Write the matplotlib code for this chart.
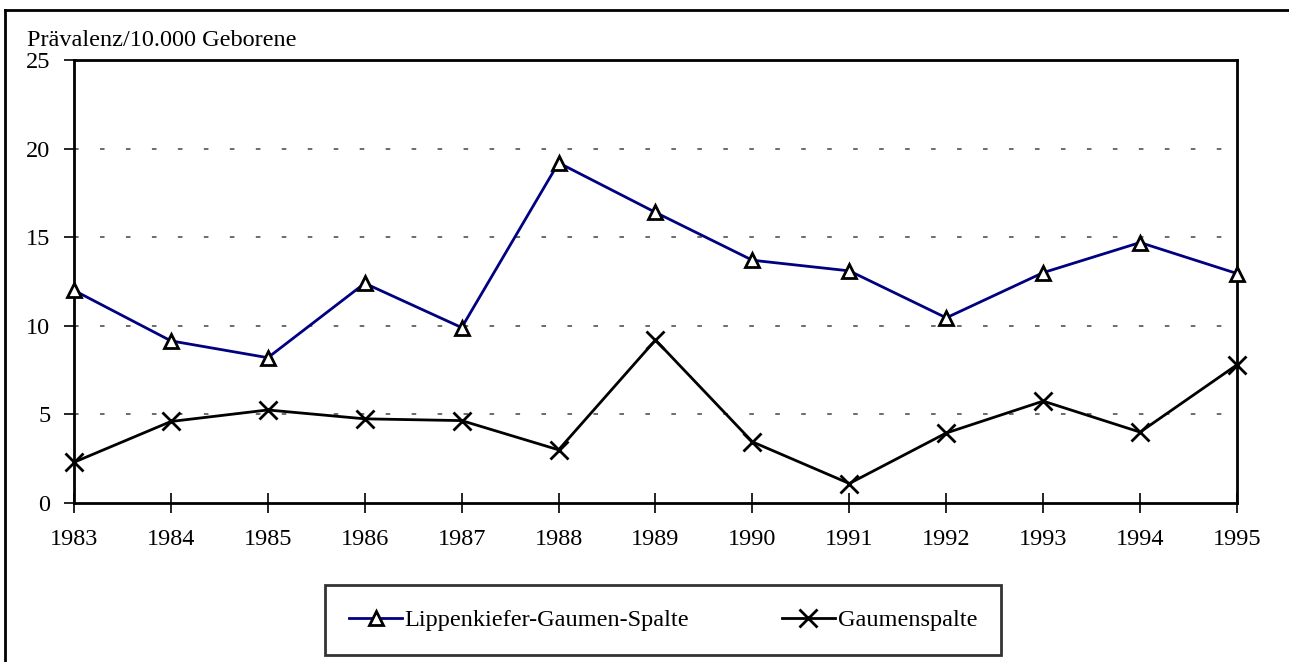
import matplotlib
matplotlib.use("Agg")
import matplotlib.pyplot as plt
from matplotlib.lines import Line2D

years = [1983, 1984, 1985, 1986, 1987, 1988, 1989, 1990, 1991, 1992, 1993, 1994, 1995]
lkg_spalte = [12.0, 9.15, 8.2, 12.4, 9.9, 19.2, 16.4, 13.7, 13.1, 10.45, 13.0, 14.7, 12.95]
gaumenspalte = [2.3, 4.6, 5.25, 4.75, 4.65, 3.0, 9.2, 3.45, 1.1, 3.95, 5.75, 4.0, 7.8]
yticks = [0, 5, 10, 15, 20, 25]

plt.rcParams['font.family'] = ['Liberation Serif', 'DejaVu Serif']
fs = 17.5

W, H = 1289, 662
fig = plt.figure(figsize=(W / 100, H / 100), dpi=100)
ax = fig.add_axes([74 / W, 1 - 503 / H, (1237 - 74) / W, (503 - 60) / H])

ax.plot(years, lkg_spalte, color='#000080', lw=2.0, marker='^', ms=10,
        mfc='white', mec='black', mew=2.0, label='Lippenkiefer-Gaumen-Spalte',
        zorder=3, clip_on=False)
ax.plot(years, gaumenspalte, color='black', lw=2.0, marker='x', ms=13,
        mew=2.0, label='Gaumenspalte', zorder=3, clip_on=False)

ax.set_xlim(years[0], years[-1])
ax.set_ylim(0, 25)
ax.set_xticks(years)
ax.set_yticks(yticks)
ax.tick_params(axis='x', direction='inout', length=14, width=1.2, labelsize=fs, pad=12)
ax.tick_params(axis='y', direction='out', length=7, width=1.2, labelsize=fs, pad=10)

for y in yticks[1:-1]:
    ax.axhline(y, color='#444444', lw=1.1, ls=(0, (3, 14)), zorder=1)

for s in ax.spines.values():
    s.set_linewidth(2.0)

fig.text(27 / W, 1 - 46 / H, 'Prävalenz/10.000 Geborene', fontsize=fs, ha='left', va='baseline')

handles = [Line2D([], [], color='#000080', lw=2.0, marker='^', ms=10, mfc='white',
                  mec='black', mew=2.0),
           Line2D([], [], color='black', lw=2.0, marker='x', ms=13, mew=2.0)]
leg = fig.legend(handles, ['Lippenkiefer-Gaumen-Spalte', 'Gaumenspalte'], ncol=2,
                 loc='center', bbox_to_anchor=(663 / W, 1 - 620 / H), fontsize=fs,
                 frameon=True, fancybox=False, edgecolor='black', handlelength=2.2,
                 handletextpad=0.1, columnspacing=3.8, borderpad=1.0)
leg.get_frame().set_linewidth(2.0)

# outer frame (top and left visible)
fig.add_artist(Line2D([5 / W, 1], [1 - 10 / H, 1 - 10 / H], color='black', lw=2.0,
                      transform=fig.transFigure))
fig.add_artist(Line2D([5 / W, 5 / W], [0, 1 - 10 / H], color='black', lw=2.0,
                      transform=fig.transFigure))

fig.savefig('out.png', dpi=100)
